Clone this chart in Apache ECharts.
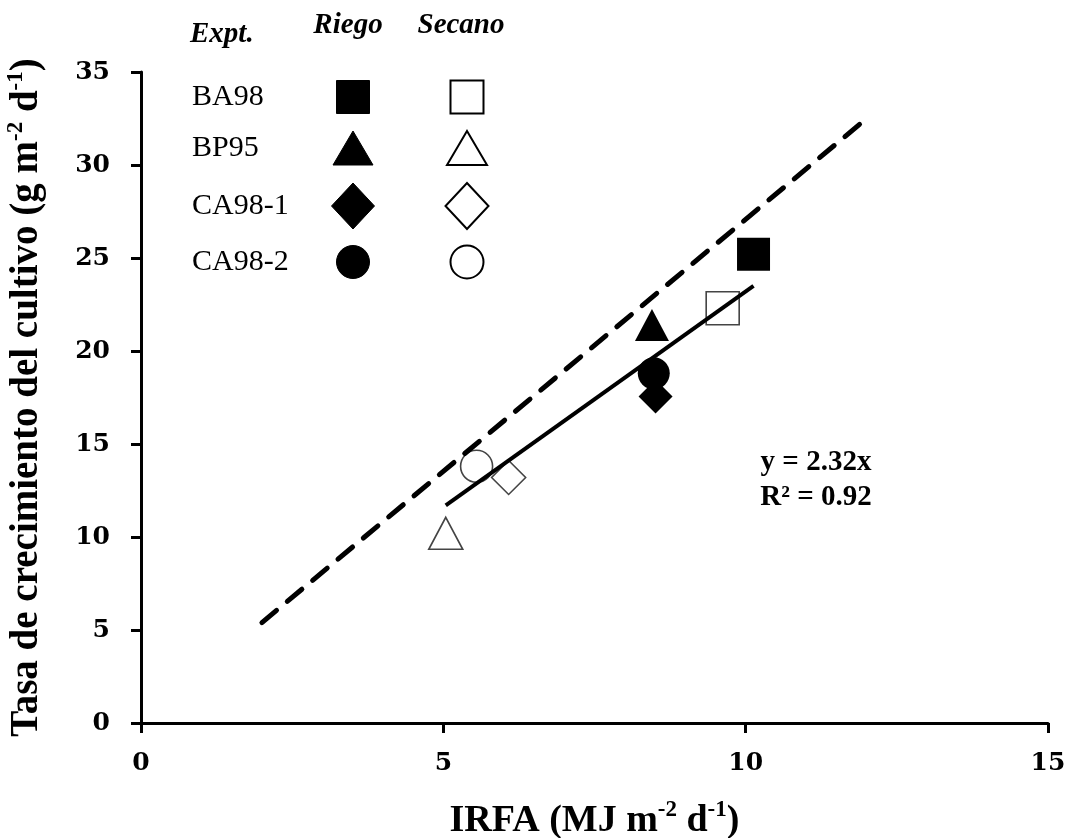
<!DOCTYPE html>
<html>
<head>
<meta charset="utf-8">
<title>Tasa de crecimiento vs IRFA</title>
<script src="https://cdn.jsdelivr.net/npm/echarts@6/dist/echarts.min.js"></script>
<style>
  html, body { margin: 0; padding: 0; background: #fff; }
  #chart { width: 1072px; height: 838px; }
</style>
</head>
<body>
<div id="chart"></div>
<script>
// datos
const expts = ['BA98', 'BP95', 'CA98-1', 'CA98-2'];
const symbols = ['rect', 'triangle', 'diamond', 'circle'];
const riegoX = [10.13, 8.45, 8.51, 8.48];
const riegoY = [25.2, 21.4, 17.55, 18.8];
const secanoX = [9.62, 5.04, 6.08, 5.55];
const secanoY = [22.3, 10.2, 13.2, 13.8];
// recta ajustada y = 2.32x y recta potencial (discontinua)
const ajusteX = [5.04, 10.13];
const ajusteY = [11.7, 23.5];
const potX = [2.0, 12.0];
const potY = [5.4, 32.5];
const ecuacion = ['y = 2.32x', 'R² = 0.92'];

const serif = "'Liberation Serif', 'Times New Roman', serif";

// tamaños de simbolo en el grafico
const plotSize = { rect: 33, triangle: [34, 32], diamond: [34, 34], circle: 32 };

const chart = echarts.init(document.getElementById('chart'));

const toPoints = (xs, ys) => xs.map((x, i) => [x, ys[i]]);

const scatterData = (xs, ys) => xs.map((x, i) => ({
  value: [x, ys[i]],
  symbol: symbols[i],
  symbolSize: plotSize[symbols[i]]
}));

// leyenda en forma de tabla (graphic)
const legendRows = [97, 148, 206, 262];
const colRiego = 353;
const colSecano = 467;

function legendShape(sym, cx, cy, filled) {
  const style = filled
    ? { fill: '#000', stroke: '#000', lineWidth: 1 }
    : { fill: '#fff', stroke: '#000', lineWidth: 2 };
  if (sym === 'rect') {
    return { type: 'rect', shape: { x: cx - 16.5, y: cy - 16.5, width: 33, height: 33 }, style };
  }
  if (sym === 'triangle') {
    const w = 40, h = 34;
    return { type: 'polygon', shape: { points: [[cx, cy - h / 2], [cx + w / 2, cy + h / 2], [cx - w / 2, cy + h / 2]] }, style };
  }
  if (sym === 'diamond') {
    const w = 43, h = 46;
    return { type: 'polygon', shape: { points: [[cx, cy - h / 2], [cx + w / 2, cy], [cx, cy + h / 2], [cx - w / 2, cy]] }, style };
  }
  return { type: 'circle', shape: { cx, cy, r: 16.5 }, style };
}

const graphics = [
  { type: 'text', left: 190, top: 20, style: { text: 'Expt.', font: 'italic bold 29px ' + serif, fill: '#000' } },
  { type: 'text', x: 348, y: 26, style: { text: 'Riego', font: 'italic bold 29px ' + serif, fill: '#000', align: 'center', verticalAlign: 'middle' } },
  { type: 'text', x: 461, y: 26, style: { text: 'Secano', font: 'italic bold 29px ' + serif, fill: '#000', align: 'center', verticalAlign: 'middle' } }
];
expts.forEach((name, i) => {
  graphics.push({ type: 'text', x: 192, y: legendRows[i], style: { text: name, font: '30px ' + serif, fill: '#000', verticalAlign: 'middle' } });
  graphics.push(legendShape(symbols[i], colRiego, legendRows[i], true));
  graphics.push(legendShape(symbols[i], colSecano, legendRows[i], false));
});
ecuacion.forEach((t, i) => {
  graphics.push({ type: 'text', x: 816, y: 463 + i * 35, style: { text: t, font: 'bold 29px ' + serif, fill: '#000', align: 'center', verticalAlign: 'middle' } });
});

const axisCommon = {
  type: 'value',
  nameLocation: 'middle',
  splitLine: { show: false },
  axisLine: { show: true, lineStyle: { color: '#000', width: 3 } },
  axisTick: { show: true, inside: false, length: 10, lineStyle: { color: '#000', width: 3 } },
  axisLabel: { color: '#000', fontFamily: "'DejaVu Serif', serif", fontWeight: 'bold', fontSize: 25 }
};

const option = {
  backgroundColor: '#fff',
  animation: false,
  grid: { left: 141, right: 24, top: 72, bottom: 115, outerBoundsMode: 'none' },
  xAxis: Object.assign({}, axisCommon, {
    min: 0, max: 15, interval: 5,
    name: 'IRFA (MJ m{sup|-2} d{sup|-1})',
    nameGap: 76,
    nameTextStyle: {
      color: '#000', fontFamily: serif, fontWeight: 'bold', fontSize: 38, lineHeight: 44,
      rich: { sup: { fontFamily: serif, fontWeight: 'bold', fontSize: 23, verticalAlign: 'top', lineHeight: 30 } }
    },
    axisLabel: Object.assign({}, axisCommon.axisLabel, { margin: 28 })
  }),
  yAxis: Object.assign({}, axisCommon, {
    min: 0, max: 35, interval: 5,
    name: 'Tasa de crecimiento del cultivo (g m{sup|-2} d{sup|-1})',
    nameGap: 92,
    nameTextStyle: {
      color: '#000', fontFamily: serif, fontWeight: 'bold', fontSize: 39, lineHeight: 44,
      rich: { sup: { fontFamily: serif, fontWeight: 'bold', fontSize: 23, verticalAlign: 'top', lineHeight: 30 } }
    },
    axisLabel: Object.assign({}, axisCommon.axisLabel, { margin: 31 })
  }),
  series: [
    {
      name: 'Riego', type: 'scatter',
      data: scatterData(riegoX, riegoY),
      itemStyle: { color: '#000', opacity: 1 }
    },
    {
      name: 'Secano', type: 'scatter',
      data: scatterData(secanoX, secanoY),
      itemStyle: { color: '#fff', borderColor: '#444', borderWidth: 1.6, opacity: 1 }
    },
    {
      name: 'potencial', type: 'line',
      data: toPoints(potX, potY),
      symbol: 'none',
      lineStyle: { color: '#000', width: 5, type: [19, 14], cap: 'round' }
    },
    {
      name: 'ajuste', type: 'line',
      data: toPoints(ajusteX, ajusteY),
      symbol: 'none',
      lineStyle: { color: '#000', width: 4 }
    }
  ],
  graphic: graphics
};

chart.setOption(option);
</script>
</body>
</html>
